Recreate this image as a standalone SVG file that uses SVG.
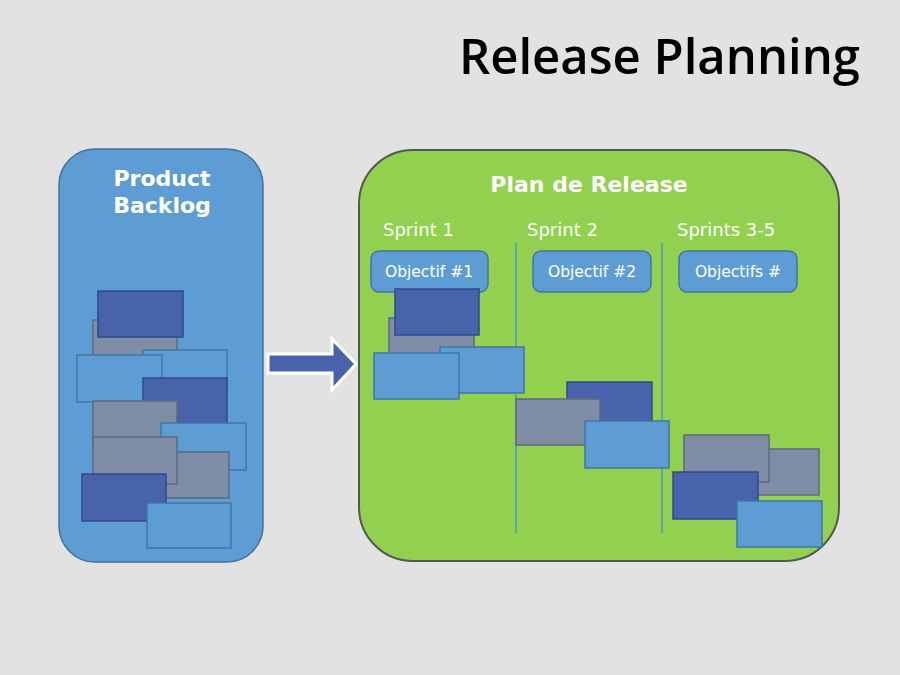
<svg xmlns="http://www.w3.org/2000/svg" width="900" height="675" viewBox="0 0 900 675">
  <defs>
    <style>
      .dk { fill: #4863ab; stroke: #2f4a8c; stroke-width: 1.5; }
      .gr { fill: #7f8ea6; stroke: #5b6a80; stroke-width: 1.5; }
      .lt { fill: #5e9dd4; stroke: #4276a6; stroke-width: 1.5; }
      .hd { font-family: "DejaVu Sans", Verdana, sans-serif; font-weight: bold; font-size: 22px; fill: #ffffff; text-anchor: middle; }
      .sp { font-family: "DejaVu Sans", Verdana, sans-serif; font-size: 18px; fill: #ffffff; }
      .ob { fill: #5e9dd4; stroke: #4276a6; stroke-width: 1.5; }
      .obt { font-family: "DejaVu Sans", Verdana, sans-serif; font-size: 15.5px; fill: #ffffff; text-anchor: middle; }
      .div { stroke: #4f97c6; stroke-width: 1.5; }
    </style>
  </defs>
  <rect x="0" y="0" width="900" height="675" fill="#e2e2e2"/>
  <text x="860" y="74" text-anchor="end" font-family="'Open Sans', 'Noto Sans', sans-serif" font-weight="600" font-size="49" fill="#000000">Release Planning</text>

  <g id="product-backlog">
    <rect x="59" y="149" width="204" height="413" rx="36" ry="36" fill="#5e9dd4" stroke="#41719c" stroke-width="1.5"/>
    <text class="hd" x="162" y="186">Product</text>
    <text class="hd" x="162" y="213">Backlog</text>
    <rect class="gr" x="93" y="320" width="84" height="46"/>
    <rect class="dk" x="98" y="291" width="85" height="46"/>
    <rect class="lt" x="143" y="350" width="84" height="46"/>
    <rect class="lt" x="77" y="355" width="85" height="47"/>
    <rect class="dk" x="143" y="378" width="84" height="45"/>
    <rect class="gr" x="93" y="401" width="84" height="46"/>
    <rect class="lt" x="161" y="423" width="85" height="47"/>
    <rect class="gr" x="144" y="452" width="85" height="46"/>
    <rect class="gr" x="93" y="437" width="84" height="47"/>
    <rect class="dk" x="82" y="474" width="84" height="47"/>
    <rect class="lt" x="147" y="503" width="84" height="45"/>
  </g>

  <g id="connectors">
    <polygon points="268,354 332,354 332,339 356,364 332,390 332,373 268,373" fill="#4863ab" stroke="#ffffff" stroke-width="3" stroke-linejoin="miter"/>
  </g>

  <g id="plan-de-release">
    <rect x="359" y="150" width="480" height="411" rx="54" ry="54" fill="#92d050" stroke="#505a50" stroke-width="2"/>
    <text class="hd" x="589" y="192">Plan de Release</text>
    <line class="div" x1="516" y1="243" x2="516" y2="533"/>
    <line class="div" x1="662" y1="243" x2="662" y2="533"/>
  </g>

  <g id="sprint-1">
    <text class="sp" x="383" y="236">Sprint 1</text>
    <rect class="ob" x="371" y="251" width="117" height="41" rx="8" ry="8"/>
    <text class="obt" x="429" y="277">Objectif #1</text>
    <rect class="gr" x="389" y="318" width="85" height="46"/>
    <rect class="dk" x="395" y="289" width="84" height="46"/>
    <rect class="lt" x="440" y="347" width="84" height="46"/>
    <rect class="lt" x="374" y="353" width="85" height="46"/>
  </g>

  <g id="sprint-2">
    <text class="sp" x="527" y="236">Sprint 2</text>
    <rect class="ob" x="533" y="251" width="118" height="41" rx="8" ry="8"/>
    <text class="obt" x="592" y="277">Objectif #2</text>
    <rect class="dk" x="567" y="382" width="85" height="46"/>
    <rect class="gr" x="516" y="399" width="84" height="46"/>
    <rect class="lt" x="585" y="421" width="84" height="47"/>
  </g>

  <g id="sprints-3-5">
    <text class="sp" x="677" y="236">Sprints 3-5</text>
    <rect class="ob" x="679" y="251" width="118" height="41" rx="8" ry="8"/>
    <text class="obt" x="738" y="277">Objectifs #</text>
    <rect class="gr" x="734" y="449" width="85" height="46"/>
    <rect class="gr" x="684" y="435" width="85" height="47"/>
    <rect class="dk" x="673" y="472" width="85" height="47"/>
    <rect class="lt" x="737" y="501" width="85" height="46"/>
  </g>
</svg>
